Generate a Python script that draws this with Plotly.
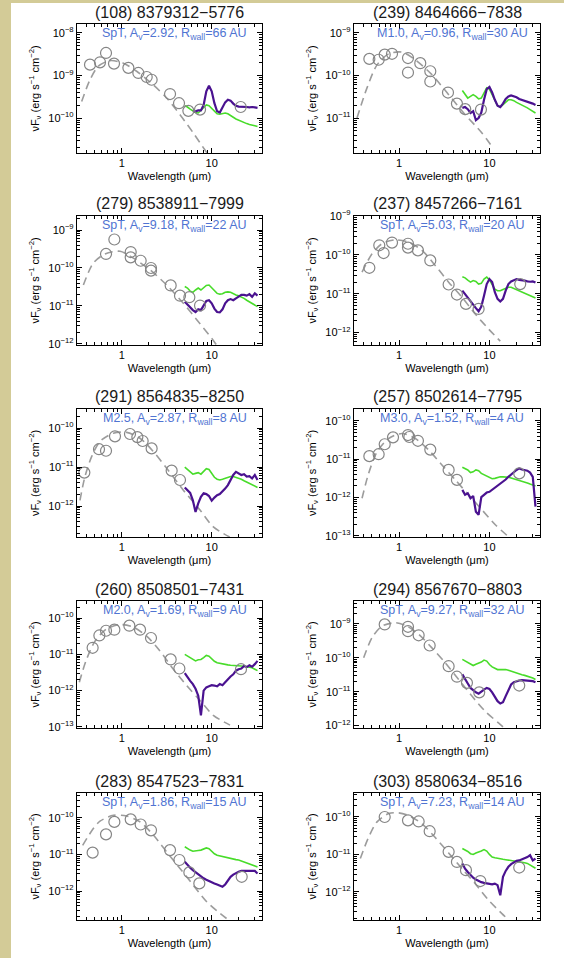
import numpy as np
import plotly.graph_objects as go

# ---------------- data (log10 of wavelength in micron, log10 of nuFnu in erg/s/cm2) ----------------
irs_loglam = [0.70, 0.73, 0.76, 0.79, 0.82, 0.85, 0.88, 0.91, 0.94, 0.97, 1.00, 1.03, 1.06, 1.09,
              1.12, 1.15, 1.18, 1.21, 1.24, 1.27, 1.30, 1.33, 1.36, 1.39, 1.42, 1.45, 1.48, 1.51]

titles = ["(108) 8379312\u22125776", "(239) 8464666\u22127838", "(279) 8538911\u22127999",
          "(237) 8457266\u22127161", "(291) 8564835\u22128250", "(257) 8502614\u22127795",
          "(260) 8508501\u22127431", "(294) 8567670\u22128803", "(283) 8547523\u22127831",
          "(303) 8580634\u22128516"]
spt = ["SpT", "M1.0", "SpT", "SpT", "M2.5", "M3.0", "M2.0", "SpT", "SpT", "SpT"]
av = ["2.92", "0.96", "9.18", "5.03", "2.87", "1.52", "1.69", "9.27", "1.86", "7.23"]
rwall = ["66", "30", "22", "20", "8", "4", "9", "32", "15", "14"]

# (108)
phot_x_108 = [-0.355, -0.244, -0.177, -0.088, 0.072, 0.183, 0.276, 0.331, 0.536, 0.636, 0.74, 0.87, 1.323]
phot_y_108 = [-8.745, -8.69, -8.47, -8.72, -8.82, -8.94, -9.035, -9.10, -9.435, -9.65, -9.83, -9.80, -9.74]
star_x_108 = [-0.448, -0.355, -0.262, -0.133, 0.016, 0.164, 0.35, 0.499, 0.647, 0.795, 0.925, 1.0]
star_y_108 = [-9.61, -9.1, -8.78, -8.65, -8.71, -8.90, -9.22, -9.53, -9.92, -10.35, -10.75, -10.98]
irs_y_108 = [None, None, None, -9.84, -9.84, -9.82, -9.82, -9.69, -9.37, -9.24, -9.37, -9.65, -9.84, -9.87,
             -9.76, -9.63, -9.57, -9.59, -9.66, -9.71, -9.73, -9.73, -9.73, -9.74, -9.75, -9.74, -9.75, -9.76]
model_y_108 = [-9.71, -9.74, -9.79, -9.83, -9.87, -9.88, -9.82, -9.74, -9.69, -9.71, -9.77, -9.85, -9.90, -9.91,
               -9.90, -9.88, -9.90, -9.95, -9.98, -10.02, -10.05, -10.08, -10.10, -10.13, -10.15, -10.16, -10.18, -10.20]

# (239)
phot_x_239 = [-0.330, -0.227, -0.160, -0.079, 0.098, 0.098, 0.234, 0.345, 0.345, 0.541, 0.640, 0.732, 0.906]
phot_y_239 = [-9.61, -9.63, -9.51, -9.49, -9.59, -9.93, -9.71, -9.90, -10.14, -10.40, -10.66, -10.79, -10.80]
star_x_239 = [-0.467, -0.356, -0.245, -0.116, 0.031, 0.179, 0.363, 0.548, 0.732, 0.917, 1.028]
star_y_239 = [-11.0, -10.29, -9.75, -9.49, -9.45, -9.63, -9.98, -10.45, -10.92, -11.35, -11.67]
irs_y_239 = [-10.76, -10.74, -10.79, -10.88, -10.84, -11.05, -11.0, -10.87, -10.57, -10.32, -10.27, -10.40, -10.57, -10.71,
             -10.74, -10.66, -10.55, -10.49, -10.47, -10.49, -10.51, -10.55, -10.57, -10.59, -10.61, -10.63, -10.66, -10.69]
model_y_239 = [-10.35, -10.45, -10.53, -10.49, -10.45, -10.49, -10.55, -10.53, -10.40, -10.29, -10.32, -10.45, -10.61, -10.71,
               -10.74, -10.68, -10.61, -10.57, -10.57, -10.59, -10.63, -10.66, -10.69, -10.73, -10.76, -10.80, -10.84, -10.88]

# (279)
phot_x_279 = [-0.177, -0.084, 0.098, 0.098, 0.209, 0.324, 0.324, 0.543, 0.647, 0.751, 0.870]
phot_y_279 = [-9.63, -9.25, -9.58, -9.72, -9.81, -10.0, -10.07, -10.46, -10.73, -10.77, -10.99]
star_x_279 = [-0.429, -0.318, -0.188, -0.021, 0.127, 0.313, 0.499, 0.684, 0.87, 1.018, 1.07]
star_y_279 = [-10.45, -9.87, -9.63, -9.56, -9.74, -10.05, -10.45, -10.93, -11.47, -11.91, -12.09]
irs_y_279 = [-10.89, -10.96, -11.05, -11.11, -11.16, -11.09, -11.11, -11.0, -10.87, -10.85, -10.93, -11.07, -11.16, -11.17,
             -11.09, -10.93, -10.85, -10.82, -10.85, -10.80, -10.76, -10.71, -10.71, -10.73, -10.69, -10.76, -10.67, -10.73]
model_y_279 = [-10.49, -10.53, -10.61, -10.64, -10.58, -10.53, -10.58, -10.53, -10.46, -10.45, -10.52, -10.61, -10.67, -10.69,
               -10.68, -10.64, -10.63, -10.64, -10.68, -10.71, -10.73, -10.76, -10.80, -10.85, -10.89, -10.93, -10.98, -11.02]

# (237)
phot_x_237 = [-0.330, -0.220, -0.172, -0.079, 0.098, 0.098, 0.208, 0.345, 0.548, 0.640, 0.740, 0.880, 1.341]
phot_y_237 = [-10.33, -9.75, -9.95, -9.68, -9.71, -9.81, -9.88, -10.14, -10.76, -11.02, -11.26, -11.39, -10.75]
star_x_237 = [-0.411, -0.30, -0.190, -0.042, 0.105, 0.253, 0.40, 0.548, 0.696, 0.843, 0.991, 1.12]
star_y_237 = [-10.44, -9.97, -9.71, -9.61, -9.67, -9.88, -10.27, -10.70, -11.09, -11.52, -11.91, -12.22]
irs_y_237 = [-10.92, -11.01, -11.11, -11.22, -11.31, -11.37, -11.45, -11.33, -11.05, -10.75, -10.62, -10.70, -10.96, -11.13,
             -11.20, -11.13, -10.92, -10.75, -10.68, -10.64, -10.62, -10.64, -10.66, -10.66, -10.68, -10.69, -10.68, -10.71]
model_y_237 = [-10.56, -10.59, -10.65, -10.70, -10.66, -10.68, -10.75, -10.73, -10.62, -10.57, -10.64, -10.76, -10.88, -10.92,
               -10.92, -10.89, -10.85, -10.83, -10.83, -10.86, -10.89, -10.92, -10.95, -10.99, -11.02, -11.05, -11.07, -11.11]

# (291)
phot_x_291 = [-0.418, -0.255, -0.177, -0.077, 0.090, 0.172, 0.231, 0.331, 0.554, 0.647]
phot_y_291 = [-11.14, -10.54, -10.58, -10.21, -10.15, -10.23, -10.33, -10.52, -11.09, -11.33]
star_x_291 = [-0.467, -0.411, -0.337, -0.244, -0.095, 0.053, 0.202, 0.35, 0.499, 0.684, 0.87, 1.018, 1.20]
star_y_291 = [-11.85, -11.24, -10.73, -10.34, -10.13, -10.11, -10.26, -10.60, -11.03, -11.59, -12.10, -12.53, -12.79]
irs_y_291 = [-11.52, -11.59, -11.66, -11.85, -12.15, -11.93, -11.76, -11.67, -11.69, -11.74, -11.86, -11.78, -11.72, -11.69,
             -11.63, -11.55, -11.46, -11.33, -11.20, -11.12, -11.16, -11.20, -11.18, -11.24, -11.23, -11.29, -11.20, -11.33]
model_y_291 = [-11.0, -11.06, -11.12, -11.18, -11.16, -11.14, -11.18, -11.12, -11.04, -11.06, -11.16, -11.26, -11.31, -11.33,
               -11.31, -11.29, -11.26, -11.24, -11.24, -11.26, -11.29, -11.31, -11.35, -11.38, -11.42, -11.45, -11.49, -11.52]

# (257)
phot_x_257 = [-0.330, -0.227, -0.160, -0.068, 0.098, 0.113, 0.208, 0.345, 0.548, 0.640, 1.33]
phot_y_257 = [-10.92, -10.87, -10.61, -10.43, -10.37, -10.42, -10.52, -10.75, -11.28, -11.54, -11.37]
star_x_257 = [-0.411, -0.338, -0.245, -0.116, 0.031, 0.179, 0.327, 0.474, 0.622, 0.769, 0.917, 1.065, 1.21]
star_y_257 = [-12.02, -11.37, -10.81, -10.46, -10.33, -10.46, -10.76, -11.15, -11.54, -11.93, -12.32, -12.71, -13.02]
irs_y_257 = [-11.80, -11.93, -11.89, -12.02, -11.96, -12.37, -12.45, -11.99, -11.93, -11.87, -11.85, -11.80, -11.73, -11.70,
             -11.63, -11.59, -11.53, -11.46, -11.39, -11.34, -11.28, -11.24, -11.27, -11.28, -11.30, -11.35, -11.46, -12.24]
model_y_257 = [-11.21, -11.24, -11.28, -11.35, -11.33, -11.28, -11.30, -11.37, -11.41, -11.44, -11.47, -11.51, -11.50, -11.47,
               -11.46, -11.46, -11.46, -11.47, -11.49, -11.51, -11.53, -11.54, -11.57, -11.60, -11.62, -11.65, -11.67, -11.70]

# (260)
phot_x_260 = [-0.326, -0.251, -0.177, -0.084, 0.083, 0.202, 0.324, 0.543, 0.640, 1.326]
phot_y_260 = [-10.82, -10.48, -10.35, -10.32, -10.21, -10.32, -10.55, -11.14, -11.39, -11.41]
star_x_260 = [-0.474, -0.40, -0.30, -0.17, -0.021, 0.127, 0.276, 0.424, 0.573, 0.721, 0.87, 1.018, 1.204]
star_y_260 = [-11.77, -11.18, -10.64, -10.30, -10.18, -10.25, -10.50, -10.91, -11.41, -11.86, -12.27, -12.68, -12.95]
irs_y_260 = [-11.52, -11.64, -11.73, -11.82, -11.95, -12.14, -12.68, -12.0, -11.91, -11.88, -11.85, -11.86, -11.88, -11.82,
             -11.85, -11.77, -11.68, -11.61, -11.55, -11.45, -11.41, -11.39, -11.32, -11.35, -11.30, -11.34, -11.27, -11.18]
model_y_260 = [-11.0, -11.05, -11.10, -11.15, -11.18, -11.15, -11.14, -11.09, -11.03, -11.05, -11.12, -11.19, -11.23, -11.25,
               -11.26, -11.28, -11.29, -11.30, -11.30, -11.31, -11.32, -11.32, -11.33, -11.34, -11.35, -11.37, -11.41, -11.45]

# (294)
phot_x_294 = [-0.160, 0.098, 0.098, 0.216, 0.338, 0.548, 0.640, 0.751, 0.887, 1.33]
phot_y_294 = [-9.02, -9.09, -9.22, -9.34, -9.64, -10.25, -10.56, -10.74, -11.02, -10.82]
star_x_294 = [-0.393, -0.30, -0.19, -0.042, 0.087, 0.216, 0.363, 0.511, 0.659, 0.806, 0.954, 1.10, 1.165]
star_y_294 = [-10.0, -9.41, -9.07, -8.97, -9.07, -9.31, -9.71, -10.15, -10.64, -11.13, -11.58, -11.92, -12.07]
irs_y_294 = [-10.49, -10.64, -10.76, -10.89, -10.96, -11.02, -11.06, -10.99, -10.94, -10.89, -10.92, -11.02, -11.15, -11.28,
             -11.35, -11.31, -11.13, -10.94, -10.79, -10.72, -10.69, -10.67, -10.66, -10.66, -10.67, -10.68, -10.69, -10.72]
model_y_294 = [-10.05, -10.10, -10.15, -10.20, -10.23, -10.19, -10.17, -10.13, -10.07, -10.10, -10.20, -10.27, -10.31, -10.35,
               -10.35, -10.34, -10.35, -10.37, -10.40, -10.43, -10.45, -10.47, -10.50, -10.52, -10.54, -10.57, -10.60, -10.64]

# (283)
phot_x_283 = [-0.326, -0.177, -0.084, 0.098, 0.209, 0.324, 0.536, 0.640, 0.751, 0.862, 1.334]
phot_y_283 = [-10.95, -10.45, -10.11, -10.04, -10.18, -10.34, -10.88, -11.15, -11.49, -11.79, -11.61]
star_x_283 = [-0.437, -0.318, -0.244, -0.095, 0.053, 0.202, 0.35, 0.499, 0.647, 0.795, 0.944, 1.092, 1.204]
star_y_283 = [-10.75, -10.29, -10.09, -9.93, -9.95, -10.11, -10.47, -10.93, -11.38, -11.84, -12.29, -12.61, -12.82]
irs_y_283 = [-11.20, -11.29, -11.36, -11.43, -11.49, -11.55, -11.60, -11.65, -11.69, -11.73, -11.76, -11.79, -11.82, -11.85,
             -11.88, -11.82, -11.70, -11.61, -11.55, -11.50, -11.47, -11.45, -11.45, -11.44, -11.43, -11.44, -11.45, -11.52]
model_y_283 = [-10.79, -10.84, -10.88, -10.91, -10.91, -10.89, -10.88, -10.85, -10.82, -10.84, -10.91, -10.98, -11.02, -11.04,
               -11.05, -11.06, -11.08, -11.10, -11.12, -11.14, -11.15, -11.18, -11.21, -11.24, -11.26, -11.29, -11.31, -11.34]

# (303)
phot_x_303 = [-0.160, 0.098, 0.216, 0.338, 0.548, 0.640, 0.740, 0.899, 1.33]
phot_y_303 = [-10.0, -10.09, -10.12, -10.38, -10.93, -11.20, -11.42, -11.71, -11.35]
star_x_303 = [-0.43, -0.345, -0.245, -0.116, -0.006, 0.105, 0.253, 0.40, 0.548, 0.696, 0.843, 0.991, 1.138, 1.21]
star_y_303 = [-11.11, -10.58, -10.13, -9.91, -9.89, -9.96, -10.18, -10.55, -10.96, -11.38, -11.78, -12.22, -12.58, -12.74]
irs_y_303 = [-11.24, -11.38, -11.47, -11.56, -11.62, -11.67, -11.71, -11.74, -11.76, -11.78, -11.78, -11.80, -11.78, -11.82,
             -12.09, -11.60, -11.44, -11.33, -11.26, -11.21, -11.17, -11.16, -11.13, -11.11, -11.07, -11.02, -11.16, -11.11]
model_y_303 = [-10.84, -10.87, -10.92, -10.98, -11.0, -10.96, -10.94, -10.91, -10.87, -10.91, -11.0, -11.07, -11.09, -11.11,
               -11.12, -11.13, -11.14, -11.15, -11.16, -11.16, -11.17, -11.18, -11.20, -11.22, -11.24, -11.28, -11.32, -11.37]

# y-axis ranges (log10) of each panel
y_ranges = [(-10.82, -7.79), (-11.82, -8.79), (-12.03, -8.63), (-12.32, -8.995), (-12.79, -9.51),
            (-13.03, -9.69), (-13.03, -9.53), (-12.07, -8.33), (-12.79, -9.32), (-12.75, -9.36)]

panels = [
    (phot_x_108, phot_y_108, star_x_108, star_y_108, irs_y_108, model_y_108),
    (phot_x_239, phot_y_239, star_x_239, star_y_239, irs_y_239, model_y_239),
    (phot_x_279, phot_y_279, star_x_279, star_y_279, irs_y_279, model_y_279),
    (phot_x_237, phot_y_237, star_x_237, star_y_237, irs_y_237, model_y_237),
    (phot_x_291, phot_y_291, star_x_291, star_y_291, irs_y_291, model_y_291),
    (phot_x_257, phot_y_257, star_x_257, star_y_257, irs_y_257, model_y_257),
    (phot_x_260, phot_y_260, star_x_260, star_y_260, irs_y_260, model_y_260),
    (phot_x_294, phot_y_294, star_x_294, star_y_294, irs_y_294, model_y_294),
    (phot_x_283, phot_y_283, star_x_283, star_y_283, irs_y_283, model_y_283),
    (phot_x_303, phot_y_303, star_x_303, star_y_303, irs_y_303, model_y_303),
]


def lin(v):
    return 10 ** np.array(v, dtype=float)


# ---------------- layout ----------------
W, H = 564, 958
col_px = [(77, 262), (354, 540)]
row_px = [(24, 153), (216, 345), (409, 537), (601, 728), (793, 920)]
FONT = "Liberation Sans, Arial, Helvetica, sans-serif"

GRAY = "#858585"
DASH_GRAY = "#9c9c9c"
GREEN = "#48dc2a"
PURPLE = "#4a1290"
BLUE = "#5074d2"

x_minor = [0.4, 0.5, 0.6, 0.7, 0.8, 0.9, 2, 3, 4, 5, 6, 7, 8, 9, 20, 30]

fig = go.Figure()
layout = dict(width=W, height=H, margin=dict(l=0, r=0, t=0, b=0, autoexpand=False),
              paper_bgcolor="white", plot_bgcolor="white", showlegend=False,
              font=dict(family=FONT, color="black"))
annotations = []

for i, (px_, py_, sx, sy, iy, my) in enumerate(panels):
    k = i + 1
    r, c = divmod(i, 2)
    xa = "x" if k == 1 else f"x{k}"
    ya = "y" if k == 1 else f"y{k}"

    fig.add_trace(go.Scatter(x=lin(sx), y=lin(sy), mode="lines", xaxis=xa, yaxis=ya,
                             line=dict(color=DASH_GRAY, width=1.6, dash="8px,5px", shape="spline", smoothing=0.8),
                             hoverinfo="skip"))
    fig.add_trace(go.Scatter(x=lin(irs_loglam), y=lin(my), mode="lines", xaxis=xa, yaxis=ya,
                             line=dict(color=GREEN, width=1.6), connectgaps=False))
    fig.add_trace(go.Scatter(x=lin(irs_loglam), y=lin(iy), mode="lines", xaxis=xa, yaxis=ya,
                             line=dict(color=PURPLE, width=2.2), connectgaps=False))
    fig.add_trace(go.Scatter(x=lin(px_), y=lin(py_), mode="markers", xaxis=xa, yaxis=ya,
                             marker=dict(symbol="circle-open", size=11, color=GRAY,
                                         line=dict(width=1.2, color=GRAY))))

    x0, x1 = col_px[c]
    ytop, ybot = row_px[r]
    lo, hi = y_ranges[i]
    decades = list(range(int(np.ceil(lo)), int(np.floor(hi)) + 1))
    y_major = [10.0 ** n for n in decades]
    y_text = [f"10<sup>\u2212{-n}</sup>" for n in decades]
    y_minor = [d * 10.0 ** n for n in range(int(np.floor(lo)), int(np.ceil(hi)) + 1) for d in range(2, 10)]

    axis_common = dict(showline=True, linecolor="black", linewidth=1.3, mirror="ticks",
                       ticks="inside", ticklen=5, tickwidth=1, tickcolor="black",
                       showgrid=False, zeroline=False, automargin=False,
                       tickfont=dict(size=11, color="black", family=FONT))
    layout["xaxis" if k == 1 else f"xaxis{k}"] = dict(
        axis_common, type="log", range=[-0.5, 1.56], domain=[x0 / W, x1 / W], anchor=ya,
        tickmode="array", tickvals=[1, 10], ticktext=["1", "10"],
        minor=dict(ticks="inside", ticklen=2.5, tickwidth=1, tickcolor="black", tickmode="array", tickvals=x_minor),
        title=dict(text="Wavelength (\u03bcm)", font=dict(size=11, family=FONT), standoff=3))
    layout["yaxis" if k == 1 else f"yaxis{k}"] = dict(
        axis_common, type="log", range=[lo, hi], domain=[1 - ybot / H, 1 - ytop / H], anchor=xa,
        tickmode="array", tickvals=y_major, ticktext=y_text,
        minor=dict(ticks="inside", ticklen=2.5, tickwidth=1, tickcolor="black", tickmode="array", tickvals=y_minor),
        title=dict(text="\u03bdF<sub>\u03bd</sub> (erg s<sup>\u22121</sup> cm<sup>\u22122</sup>)",
                   font=dict(size=11, family=FONT), standoff=6))

    dref_x = "x domain" if k == 1 else f"x{k} domain"
    dref_y = "y domain" if k == 1 else f"y{k} domain"
    annotations.append(dict(text=titles[i], xref=dref_x, yref=dref_y, x=0.5, y=1, xanchor="center",
                            yanchor="middle", yshift=12, showarrow=False,
                            font=dict(size=16, color="#1a1a1a", family=FONT)))
    annotations.append(dict(text=f"{spt[i]}, A<sub>v</sub>={av[i]}, R<sub>wall</sub>={rwall[i]} AU",
                            xref=dref_x, yref=dref_y, x=0.5, y=1, xanchor="center", yanchor="middle",
                            yshift=-10, xshift=5, showarrow=False,
                            font=dict(size=12.5, color=BLUE, family=FONT)))

layout["annotations"] = annotations
layout["shapes"] = [
    dict(type="rect", xref="paper", yref="paper", x0=0, x1=11 / W, y0=0, y1=1,
         fillcolor="#d3cb97", line=dict(width=0), layer="below"),
    dict(type="rect", xref="paper", yref="paper", x0=0, x1=1, y0=1 - 3 / H, y1=1,
         fillcolor="#d3cb97", line=dict(width=0), layer="below"),
]
fig.update_layout(**layout)
fig.write_html("out.html", config={"displayModeBar": False},
               post_script="document.body.style.margin='0px';document.body.style.overflow='hidden';")
